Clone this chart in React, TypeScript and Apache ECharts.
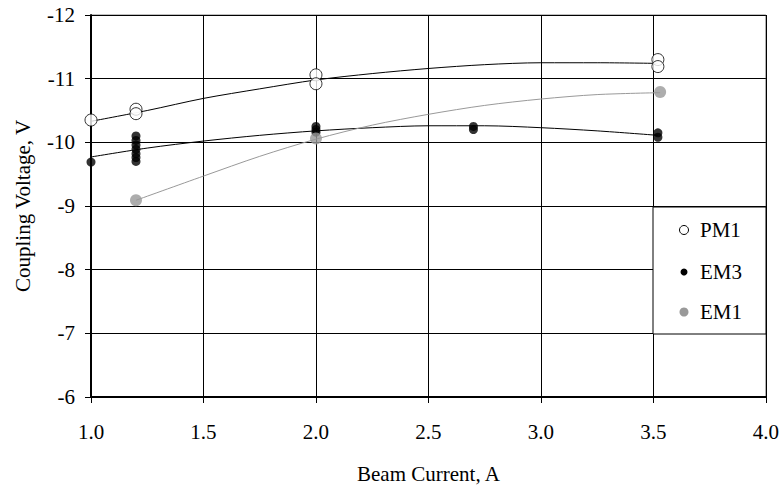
import React, { useEffect, useRef } from "react";
import * as echarts from "echarts";

// Measured points (x = beam current, A; y = coupling voltage, V)
const pm1Points: number[][] = [
  [1.0, -10.35], [1.2, -10.52], [1.2, -10.45], [2.0, -11.06], [2.0, -10.92],
  [3.52, -11.3], [3.52, -11.19],
];
const em3Points: number[][] = [
  [1.0, -9.69], [1.2, -10.1], [1.2, -10.03], [1.2, -9.96], [1.2, -9.89],
  [1.2, -9.82], [1.2, -9.76], [1.2, -9.7], [2.0, -10.25], [2.0, -10.2],
  [2.0, -10.16], [2.7, -10.25], [2.7, -10.2], [3.52, -10.15], [3.52, -10.08],
];
const em1Points: number[][] = [[1.2, -9.09], [2.0, -10.06], [3.53, -10.79]];

// Trend curves
const pm1Trend: number[][] = [
  [1.0, -10.33], [1.25, -10.5], [1.5, -10.69], [1.75, -10.84], [2.0, -10.98],
  [2.25, -11.08], [2.5, -11.16], [2.75, -11.22], [3.0, -11.25], [3.25, -11.25], [3.52, -11.24],
];
const em3Trend: number[][] = [
  [1.0, -9.77], [1.25, -9.91], [1.5, -10.02], [1.75, -10.11], [2.0, -10.18],
  [2.25, -10.23], [2.5, -10.26], [2.75, -10.26], [3.0, -10.23], [3.25, -10.18], [3.52, -10.11],
];
const em1Trend: number[][] = [
  [1.2, -9.09], [1.5, -9.47], [1.75, -9.78], [2.0, -10.05], [2.25, -10.27],
  [2.5, -10.44], [2.75, -10.58], [3.0, -10.68], [3.25, -10.75], [3.53, -10.78],
];

const seriesNames = ["PM1", "EM3", "EM1"];
const xTitle = "Beam Current, A";
const yTitle = "Coupling Voltage, V";

const FONT = "Liberation Serif";
const GRAY = "#999999";

export default function App() {
  const ref = useRef<HTMLDivElement>(null);
  useEffect(() => {
    if (!ref.current) return;
    const chart = echarts.init(ref.current, null, { renderer: "svg" });
    const trendLine = (data: number[][], color: string) => ({
      type: "line",
      data,
      smooth: 0.3,
      showSymbol: false,
      symbol: "none",
      silent: true,
      lineStyle: { color, width: 1 },
      z: 2,
    });
    chart.setOption({
      animation: false,
      textStyle: { fontFamily: FONT },
      grid: {
        left: 91,
        top: 15,
        right: 16,
        bottom: 90,
        show: true,
        borderColor: "#808080",
        borderWidth: 1,
        backgroundColor: "transparent",
      },
      xAxis: {
        type: "value",
        min: 1,
        max: 4,
        interval: 0.5,
        name: xTitle,
        nameLocation: "middle",
        nameGap: 66,
        nameTextStyle: { fontFamily: FONT, fontSize: 21, color: "#000" },
        axisLine: { show: true, onZero: false, lineStyle: { color: "#000", width: 2 } },
        axisTick: { show: true, length: 6, lineStyle: { color: "#000", width: 1 } },
        axisLabel: {
          fontFamily: FONT,
          fontSize: 21,
          color: "#000",
          margin: 24,
          formatter: (v: number) => v.toFixed(1),
        },
        splitLine: { show: true, lineStyle: { color: "#000", width: 1 } },
      },
      yAxis: {
        type: "value",
        inverse: true,
        min: -12,
        max: -6,
        interval: 1,
        name: yTitle,
        nameLocation: "middle",
        nameGap: 58,
        nameTextStyle: { fontFamily: FONT, fontSize: 21, color: "#000" },
        axisLine: { show: true, onZero: false, lineStyle: { color: "#000", width: 2 } },
        axisTick: { show: true, length: 6, lineStyle: { color: "#000", width: 1 } },
        axisLabel: { fontFamily: FONT, fontSize: 21, color: "#000", margin: 16 },
        splitLine: { show: true, lineStyle: { color: "#000", width: 1 } },
      },
      series: [
        trendLine(pm1Trend, "#000"),
        trendLine(em3Trend, "#000"),
        trendLine(em1Trend, GRAY),
        {
          name: seriesNames[0],
          type: "scatter",
          data: pm1Points,
          symbol: "circle",
          symbolSize: 12,
          itemStyle: { color: "#fff", borderColor: "#000", borderWidth: 1 },
          z: 3,
        },
        {
          name: seriesNames[1],
          type: "scatter",
          data: em3Points,
          symbol: "circle",
          symbolSize: 9,
          itemStyle: { color: "#000" },
          z: 3,
        },
        {
          name: seriesNames[2],
          type: "scatter",
          data: em1Points,
          symbol: "circle",
          symbolSize: 12,
          itemStyle: { color: GRAY },
          z: 3,
        },
      ],
      graphic: [
        {
          type: "rect",
          z: 100,
          shape: { x: 653, y: 207, width: 113, height: 127 },
          style: { fill: "#fff", stroke: "#000", lineWidth: 1 },
        },
        {
          type: "circle",
          z: 101,
          shape: { cx: 684, cy: 230, r: 4.5 },
          style: { fill: "#fff", stroke: "#000", lineWidth: 1 },
        },
        {
          type: "circle",
          z: 101,
          shape: { cx: 684, cy: 272, r: 3.5 },
          style: { fill: "#000" },
        },
        {
          type: "circle",
          z: 101,
          shape: { cx: 684, cy: 312, r: 4.5 },
          style: { fill: GRAY },
        },
        ...seriesNames.map((n, i) => ({
          type: "text",
          z: 101,
          x: 700,
          y: [230, 272, 312][i],
          style: {
            text: n,
            fontFamily: FONT,
            fontSize: 21,
            fill: "#000",
            align: "left",
            verticalAlign: "middle",
          },
        })),
      ],
    });
    return () => chart.dispose();
  }, []);
  return (
    <div
      ref={ref}
      style={{ position: "fixed", left: 0, top: 0, width: 782, height: 489, background: "#fff" }}
    />
  );
}
